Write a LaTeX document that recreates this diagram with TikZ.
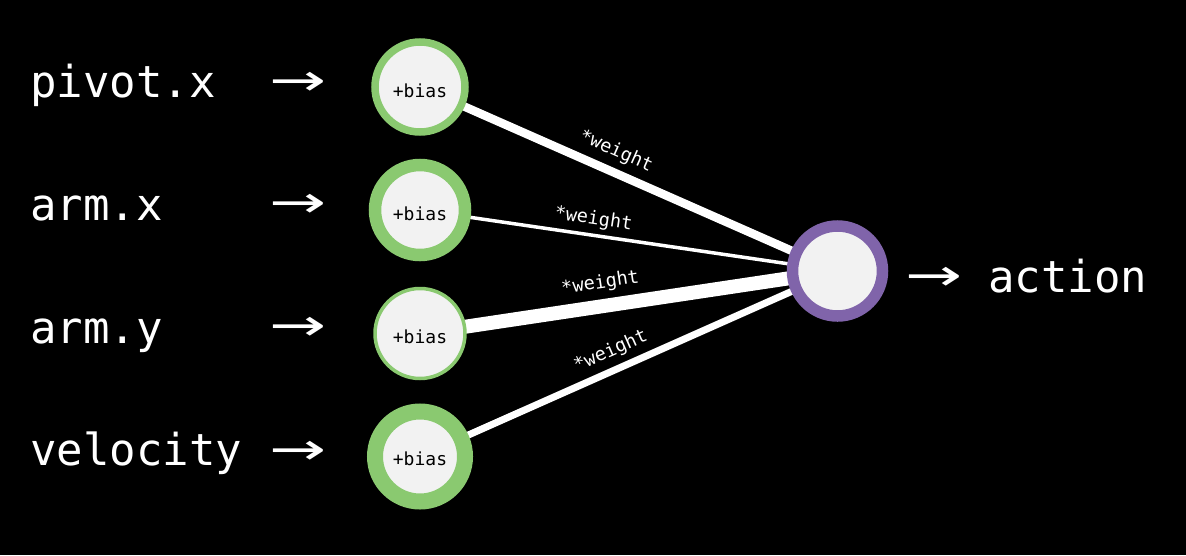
\documentclass[tikz,border=0pt]{standalone}
\usepackage{fontspec}
\setmonofont{DejaVu Sans Mono}
\newfontfamily\arrowfont{DejaVu Sans}
\definecolor{ngreen}{RGB}{138,201,112}
\definecolor{npurple}{RGB}{128,100,170}
\definecolor{nfill}{RGB}{242,242,242}
\begin{document}
\begin{tikzpicture}[x=1pt,y=-1pt,
  neuron/.style={circle,inner sep=0pt,minimum size=90pt,fill=nfill},
  inlabel/.style={anchor=base west,text=white,font=\ttfamily\fontsize{44}{44}\selectfont,inner sep=0pt},
  arr/.style={anchor=center,text=white,font=\arrowfont\fontsize{44}{44}\selectfont,inner sep=0pt},
  bias/.style={anchor=base,text=black,font=\ttfamily\fontsize{18}{18}\selectfont,inner sep=0pt},
  wlabel/.style={text=white,font=\ttfamily\fontsize{18.5}{18.5}\selectfont,sloped,inner sep=1pt},
  wedge/.style={draw=white,line cap=butt}
]
\fill[black] (0,0) rectangle (1186,555);
\useasboundingbox (0,0) rectangle (1186,555);

% neuron centres
\coordinate (c1) at (420,87);
\coordinate (c2) at (420,210);
\coordinate (c3) at (420,333.5);
\coordinate (c4) at (420,456.5);
\coordinate (co) at (837.5,271);

% weighted edges
\draw[wedge,line width=8.5pt] (c1) -- node[wlabel,pos=0.45,above=6pt]{*weight} (co);
\draw[wedge,line width=3.5pt] (c2) -- node[wlabel,pos=0.41,above=4pt]{*weight} (co);
\draw[wedge,line width=14pt] (c3) -- node[wlabel,pos=0.44,above=6pt]{*weight} (co);
\draw[wedge,line width=7pt] (c4) -- node[wlabel,pos=0.475,above=5pt]{*weight} (co);

\node[neuron,draw=ngreen,line width=7.5pt] (n1) at (c1) {};
\node[neuron,draw=ngreen,line width=12.5pt] (n2) at (c2) {};
\node[neuron,draw=ngreen,line width=3.5pt] (n3) at (c3) {};
\node[neuron,draw=ngreen,line width=16pt] (n4) at (c4) {};
\node[neuron,draw=npurple,line width=11.5pt] (out) at (co) {};

\node[bias] (b1) at (420,97) {+bias};
\node[bias] (b2) at (420,220) {+bias};
\node[bias] (b3) at (420,343) {+bias};
\node[bias] (b4) at (420,465) {+bias};

% input labels
\node[inlabel] (l1) at (30,97) {pivot.x};
\node[inlabel] (l2) at (30,220) {arm.x};
\node[inlabel] (l3) at (30,343) {arm.y};
\node[inlabel] (l4) at (30,465) {velocity};

\node[arr] (a1) at (298,84) {\scalebox{1.55}[1]{→}};
\node[arr] (a2) at (298,206) {\scalebox{1.55}[1]{→}};
\node[arr] (a3) at (298,329) {\scalebox{1.55}[1]{→}};
\node[arr] (a4) at (298,453) {\scalebox{1.55}[1]{→}};
\node[arr] (ao) at (934,279) {\scalebox{1.55}[1]{→}};

\node[inlabel] (act) at (988,292) {action};
\end{tikzpicture}
\end{document}
